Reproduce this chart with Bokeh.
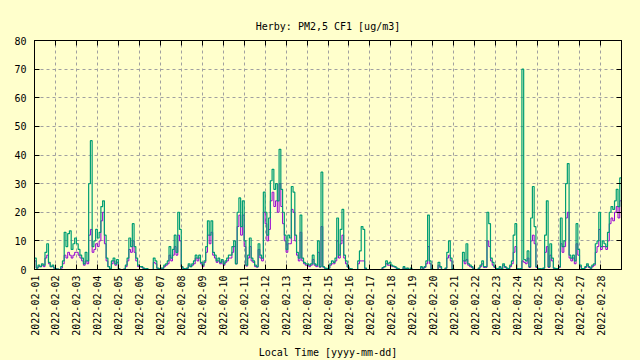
import math
import numpy as np
import pandas as pd
from bokeh.plotting import figure
from bokeh.models import (FixedTicker, DatetimeTickFormatter, LinearAxis, DatetimeAxis,
                          Range1d, CustomJSTickFormatter)
from bokeh.embed import file_html
from bokeh.resources import INLINE

# ---- data (2-hourly samples, 12 per day, 2022-02-01 .. 2022-02-28) ----
title_text = "Herby: PM2,5 CF1 [ug/m3]"
x_label = "Local Time [yyyy-mm-dd]"
start_time = "2022-02-01T00:00"
end_time = "2022-03-01T00:00"
step_hours = 2
day_labels = ["2022-02-%02d" % d for d in range(1, 29)]
y_ticks = [0, 10, 20, 30, 40, 50, 60, 70, 80]

pm_green = [
    4, 0.5, 1.5, 1, 2, 1.5, 6, 9, 2.5, 1, 1.5, 0.5,
    0.2, 0.1, 0, 1, 3, 13, 8, 12.5, 13.5, 7, 9, 11,
    9, 7, 5, 4, 2, 6, 3, 30, 45, 8, 10, 14,
    11, 13, 22, 24, 12, 4, 1, 0.3, 3, 4, 2, 3.5,
    0.2, 0, 0, 0.1, 1.5, 4, 11, 8, 16, 8, 4, 1.5,
    1, 1, 0.5, 0.2, 0.3, 0, 0, 0, 4, 3, 0.5, 0.3,
    0.5, 0.5, 1.5, 2, 3, 8, 4, 7, 12, 6, 20, 14,
    1, 0.3, 0.2, 0.5, 2, 1, 2, 3, 5, 4, 5, 2.5,
    1.5, 3, 8, 17, 12, 17, 6, 5, 3, 4, 2.5, 3.5,
    2, 3, 4, 5, 5, 8, 10, 2, 20, 25, 15, 24,
    10, 1.5, 5, 11, 4, 3, 1.5, 1, 9, 5, 4, 27,
    20, 12, 18, 31, 35, 28, 30, 24, 42, 28, 20, 12,
    7, 12, 11, 29, 27, 12, 6, 4, 19, 4, 2.5, 2,
    2, 1.5, 2, 5, 2, 1.5, 10, 1, 34, 1, 0.5, 0.3,
    0.5, 2, 3, 2.5, 4, 18, 5, 14, 21, 5, 3, 1,
    0.3, 0.2, 0, 0, 0, 3, 6.5, 15, 14, 0.5, 0, 0,
    0, 0, 0, 0, 0, 0, 0, 0.7, 1, 3, 2, 2.5,
    1.5, 1.2, 1, 0.5, 0.2, 0, 0, 1, 0.2, 0.5, 0, 0.5,
    0, 0, 0, 0, 0, 1, 0.5, 1, 3, 19, 3, 0.3,
    0, 0, 0, 2.5, 1, 0, 0, 0.5, 6, 10, 4, 0.3,
    0, 0, 0, 0, 0, 6, 3, 9, 2, 1.5, 1, 0.2,
    0, 0, 0.5, 1.5, 3, 1, 1, 20, 16, 4, 2.5, 1,
    0.3, 0.3, 1, 0.3, 2, 1, 0.5, 0.3, 1.5, 3, 12, 16,
    0.3, 0.2, 0.3, 70, 3.5, 3, 6.5, 1, 18, 29, 15, 1,
    0.3, 0.3, 0.2, 0.5, 12, 24, 1, 9, 4, 0.5, 0.3, 0.3,
    1, 18, 8, 10, 30, 37, 5, 4, 5, 3, 16, 7,
    1.5, 0.3, 0.3, 1, 2, 1, 0.5, 1.5, 2, 9, 10, 20,
    8, 10, 9, 8, 13, 20, 22, 21, 24, 28, 22, 32,
]

pm_purple = [
    3, 0.5, 1, 1, 1.5, 1, 4, 5, 2, 1, 1, 0.5,
    0.2, 0.1, 0, 0.5, 2, 5, 4, 6, 5, 4, 5, 6,
    6, 5, 4, 3, 1.5, 3, 2, 12, 14, 6, 7, 9,
    8, 10, 17, 20, 9, 3, 1, 0.3, 2, 3, 1.5, 2.5,
    0.2, 0, 0, 0.1, 1, 3, 7, 6, 10, 6, 3, 1,
    1, 0.8, 0.4, 0.2, 0.2, 0, 0, 0, 2.5, 2, 0.4, 0.2,
    0.4, 0.4, 1, 1.5, 2, 5, 3, 5, 8, 5, 12, 10,
    0.8, 0.2, 0.2, 0.4, 1.5, 1, 1.5, 2, 4, 3, 4, 2,
    1, 2.5, 6, 12, 9, 13, 5, 4, 2.5, 3, 2, 3,
    1.5, 2.5, 3, 4, 4, 6, 8, 2, 15, 19, 12, 19,
    8, 1.2, 4, 8, 3, 2.5, 1, 0.8, 7, 4, 3, 20,
    16, 10, 14, 24, 27, 22, 24, 20, 30, 22, 16, 10,
    6, 9, 9, 21, 20, 10, 5, 3, 13, 3, 2, 1.5,
    1.5, 1, 1.5, 3.5, 1.5, 1, 6, 0.8, 15, 0.8, 0.4, 0.2,
    0.4, 1.5, 2, 2, 3, 10, 4, 9, 12, 4, 2, 0.8,
    0.2, 0.1, 0, 0, 0, 2, 3, 3, 3, 0.3, 0, 0,
    0, 0, 0, 0, 0, 0, 0, 0.5, 1, 2, 1.5, 1.5,
    1.2, 1, 0.8, 0.4, 0.1, 0, 0, 0.6, 0.2, 0.4, 0, 0.3,
    0, 0, 0, 0, 0, 0.6, 0.4, 0.7, 2, 8, 2, 0.2,
    0, 0, 0, 1.5, 0.6, 0, 0, 0.4, 4, 5, 3, 0.2,
    0, 0, 0, 0, 0, 3, 2, 3.5, 1.5, 1, 0.7, 0.1,
    0, 0, 0.4, 1, 2, 0.7, 0.7, 10, 8, 3, 1.5, 0.7,
    0.2, 0.2, 0.7, 0.2, 1.5, 0.7, 0.4, 0.2, 1, 2, 6, 8,
    0.2, 0.1, 0.2, 3, 2.5, 2, 4, 0.7, 10, 12, 9, 0.7,
    0.2, 0.2, 0.1, 0.4, 6, 8, 0.7, 5, 3, 0.4, 0.2, 0.2,
    0.7, 9, 6, 8, 18, 20, 4, 3, 4, 2, 9, 5,
    1, 0.2, 0.2, 0.7, 1.5, 0.7, 0.4, 1, 1.5, 6, 8, 14,
    7, 8, 8, 7, 10, 16, 18, 17, 20, 22, 18, 24,
]

# ---- styling ----
BG = "#ffffcc"
FONT = "DejaVu Sans Mono"
GREEN = "#009e73"
PURPLE = "#9400d3"

t0 = pd.Timestamp(start_time)
t_end = pd.Timestamp(end_time)
times = list(pd.date_range(t0, periods=len(pm_green), freq="%dh" % step_hours)) + [t_end]
yg = pm_green + [pm_green[-1]]
yp = pm_purple + [pm_purple[-1]]

day_ticks = [pd.Timestamp(d).value / 1e6 for d in day_labels]

p = figure(width=640, height=360, x_axis_type="datetime",
           x_range=Range1d(t0, t_end), y_range=Range1d(0, 80),
           output_backend="svg", toolbar_location=None,
           background_fill_color=BG, border_fill_color=BG,
           min_border_left=34, min_border_right=19, min_border_top=40,
           min_border_bottom=89, title=title_text)

p.title.text_font = FONT
p.title.text_font_size = "10px"
p.title.text_font_style = "normal"
p.title.text_color = "black"
p.title.align = "center"
p.title.standoff = 17

p.outline_line_color = "black"
p.outline_line_width = 1

xt = FixedTicker(ticks=day_ticks)
yt = FixedTicker(ticks=y_ticks)

xa = p.xaxis[0]
xa.ticker = xt
xa.formatter = DatetimeTickFormatter(days="%Y-%m-%d", months="%Y-%m-%d", hours="%Y-%m-%d",
                                     years="%Y-%m-%d", minutes="%Y-%m-%d")
xa.major_label_orientation = math.pi / 2
xa.axis_label = x_label

ya = p.yaxis[0]
ya.ticker = yt

for ax in (xa, ya):
    ax.major_tick_in = 5
    ax.major_tick_out = 0
    ax.minor_tick_in = 0
    ax.minor_tick_out = 0
    ax.axis_line_color = "black"
    ax.major_tick_line_color = "black"
    ax.major_label_text_font = FONT
    ax.major_label_text_font_size = "10px"
    ax.major_label_text_color = "black"
    ax.axis_label_text_font = FONT
    ax.axis_label_text_font_size = "10px"
    ax.axis_label_text_font_style = "normal"
    ax.axis_label_text_color = "black"

xa.major_label_standoff = 6
xa.axis_label_standoff = 8
ya.major_label_standoff = 8

empty = CustomJSTickFormatter(code="return ''")
ra = LinearAxis(ticker=yt, formatter=empty, major_tick_in=5, major_tick_out=0,
                minor_tick_in=0, minor_tick_out=0, axis_line_color="black",
                major_label_standoff=0)
p.add_layout(ra, "right")
ta = DatetimeAxis(ticker=xt, formatter=empty, major_tick_in=5, major_tick_out=0,
                  minor_tick_in=0, minor_tick_out=0, axis_line_color="black",
                  major_label_standoff=0)
p.add_layout(ta, "above")

p.xgrid.ticker = xt
p.ygrid.ticker = yt
for g in (p.xgrid, p.ygrid):
    g.grid_line_color = "#a0a0a0"
    g.grid_line_dash = "3 3"
    g.grid_line_width = 1

p.step(times, yp, mode="after", line_color=PURPLE, line_width=1)
p.step(times, yg, mode="after", line_color=GREEN, line_width=1.2)

html = file_html(p, INLINE)
html = html.replace("<head>", "<head><style>body{background:%s;}</style>" % BG, 1)
open("out.html", "w").write(html)
